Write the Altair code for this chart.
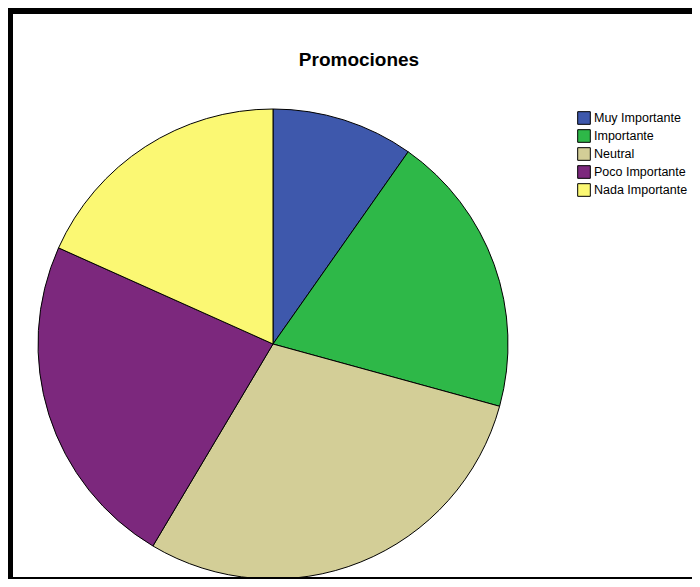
import altair as alt
import pandas as pd

categories = ["Muy Importante", "Importante", "Neutral", "Poco Importante", "Nada Importante"]
counts = [8, 16, 24, 19, 15]
colors = ["#3E58AC", "#2EB848", "#D3CE97", "#7C287D", "#FBF873"]
title_text = "Promociones"

W, H = 684, 571

df = pd.DataFrame({"categoria": categories, "n": counts, "idx": list(range(len(categories)))})

pie = alt.Chart(df).mark_arc(
    radius=235, x=265, y=336, stroke="black", strokeWidth=1
).encode(
    theta=alt.Theta("n:Q", stack=True),
    order=alt.Order("idx:Q"),
    color=alt.Color(
        "categoria:N",
        scale=alt.Scale(domain=categories, range=colors),
        sort=categories,
        legend=alt.Legend(
            title=None, orient="none", legendX=569, legendY=103,
            symbolType="square", symbolSize=160, symbolStrokeColor="black",
            symbolStrokeWidth=1, symbolOpacity=1,
            labelFont="Liberation Sans", labelFontSize=12.5, labelColor="black",
            labelOffset=3, rowPadding=0, padding=0,
        ),
    ),
)

title = alt.Chart(pd.DataFrame({"t": [title_text]})).mark_text(
    font="Liberation Sans", fontSize=19, fontWeight="bold", color="black", baseline="middle"
).encode(x=alt.value(351), y=alt.value(52), text="t:N")

frame_df = pd.DataFrame({"k": [0]})
top_rule = alt.Chart(frame_df).mark_rule(color="black", strokeWidth=6).encode(
    x=alt.value(0), x2=alt.value(W), y=alt.value(3))
left_rule = alt.Chart(frame_df).mark_rule(color="black", strokeWidth=5).encode(
    x=alt.value(2.5), y=alt.value(0), y2=alt.value(H))
bottom_rule = alt.Chart(frame_df).mark_rule(color="black", strokeWidth=2).encode(
    x=alt.value(0), x2=alt.value(W), y=alt.value(H - 1))

chart = alt.layer(pie, title, top_rule, left_rule, bottom_rule).properties(
    width=W, height=H, autosize=alt.AutoSizeParams(type="none"), padding=0,
    background="white",
).configure_view(stroke=None)

chart.save("out.html", embed_options={"renderer": "svg", "actions": False})
